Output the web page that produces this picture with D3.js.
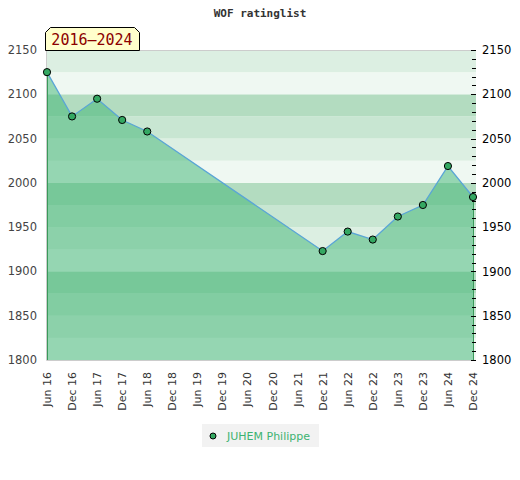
<!DOCTYPE html>
<html>
<head>
<meta charset="utf-8">
<script src="https://cdn.jsdelivr.net/npm/d3@7"></script>
<style>
  body { margin: 0; background: #fff; }
  svg { display: block; }
</style>
</head>
<body>
<svg id="chart" width="520" height="480"></svg>
<script>
// half-year labels along the x axis
var periods = ['Jun 16', 'Dec 16', 'Jun 17', 'Dec 17', 'Jun 18', 'Dec 18', 'Jun 19', 'Dec 19',
  'Jun 20', 'Dec 20', 'Jun 21', 'Dec 21', 'Jun 22', 'Dec 22', 'Jun 23', 'Dec 23', 'Jun 24', 'Dec 24'];
// rating per period, null where there was no rating
var ratings = [2125, 2075, 2095, 2071, 2058, null, null, null,
  null, null, null, 1923, 1945, 1936, 1962, 1975, 2019, 1984];
var yTicks = [1800, 1850, 1900, 1950, 2000, 2050, 2100, 2150];
var playerName = 'JUHEM Philippe';
var rangeLabel = '2016\u20132024';

(function () {
  var svg = d3.select('#chart');
  var plotLeft = 46, plotRight = 476, plotTop = 50, plotBottom = 360;
  var markerFill = '#34a862';

  var x = d3.scalePoint().domain(periods).range([47, 473]);
  var y = d3.scaleLinear().domain([1800, 2150]).range([plotBottom, plotTop]);

  // background stripes, 4 shades per 100 points
  var bandColors = ['#eff8f2', '#dcefe2', '#c8e6d2', '#b3dcc0'];
  var bands = d3.range(1800, 2150, 25);
  svg.append('g').selectAll('rect').data(bands).enter().append('rect')
      .attr('x', plotLeft)
      .attr('width', plotRight - plotLeft)
      .attr('y', function (d) { return y(d + 25); })
      .attr('height', function (d) { return y(d) - y(d + 25); })
      .attr('fill', function (d) { return bandColors[((d - 1800) / 25) % 4]; });

  // frame
  svg.append('path')
      .attr('d', 'M' + plotRight + ',' + (plotTop + 0.5) + 'H' + (plotLeft + 0.5) +
          'V' + (plotBottom + 0.5) + 'H' + plotRight)
      .attr('fill', 'none')
      .attr('stroke', '#cccccc');

  var points = periods.map(function (p, i) { return {p: p, v: ratings[i]}; })
      .filter(function (d) { return d.v !== null; });

  var area = d3.area()
      .x(function (d) { return x(d.p); })
      .y0(y(1800))
      .y1(function (d) { return y(d.v); });

  svg.append('path')
      .datum(points)
      .attr('d', area)
      .attr('fill', 'rgba(60,179,113,0.5)');

  // green edges of the area
  var first = points[0], last = points[points.length - 1];
  [first, last].forEach(function (d) {
    svg.append('line')
        .attr('x1', x(d.p) + 0.5).attr('x2', x(d.p) + 0.5)
        .attr('y1', y(d.v)).attr('y2', y(1800))
        .attr('stroke', '#3a9a5a');
  });

  var line = d3.line()
      .x(function (d) { return x(d.p); })
      .y(function (d) { return y(d.v); });

  svg.append('path')
      .datum(points)
      .attr('d', line)
      .attr('fill', 'none')
      .attr('stroke', '#5aa5d6')
      .attr('stroke-width', 1.3);

  // right axis with minor ticks
  var yAxis = d3.axisRight(y)
      .tickValues(yTicks)
      .tickSize(0)
      .tickPadding(9)
      .tickFormat(d3.format('d'));
  var gAxis = svg.append('g')
      .attr('transform', 'translate(473,0)')
      .call(yAxis);
  gAxis.select('.domain').remove();
  gAxis.selectAll('text')
      .attr('fill', '#000')
      .style('font', '11.5px "DejaVu Sans"');

  svg.append('g').selectAll('line').data(d3.range(1800, 2151, 10)).enter().append('line')
      .attr('x1', function (d) { return d % 50 === 0 ? 471 : 472; })
      .attr('x2', 476)
      .attr('y1', function (d) { return Math.round(y(d)) + 0.5; })
      .attr('y2', function (d) { return Math.round(y(d)) + 0.5; })
      .attr('stroke', '#000');

  // left labels
  svg.append('g').selectAll('text').data(yTicks).enter().append('text')
      .attr('x', 37)
      .attr('y', function (d) { return y(d); })
      .attr('dy', '0.35em')
      .attr('text-anchor', 'end')
      .attr('fill', '#444')
      .style('font', '11.5px "DejaVu Sans"')
      .text(function (d) { return d; });

  // rotated x labels
  svg.append('g').selectAll('text').data(periods).enter().append('text')
      .attr('transform', function (d) { return 'translate(' + (x(d) + 4) + ',372) rotate(-90)'; })
      .attr('text-anchor', 'end')
      .attr('fill', '#333')
      .style('font', '11px "DejaVu Sans"')
      .text(function (d) { return d; });

  // markers
  svg.append('g').selectAll('circle').data(points).enter().append('circle')
      .attr('cx', function (d) { return x(d.p); })
      .attr('cy', function (d) { return y(d.v); })
      .attr('r', 3.6)
      .attr('fill', markerFill)
      .attr('stroke', '#000')
      .attr('stroke-width', 1);

  // title
  svg.append('text')
      .attr('x', 260)
      .attr('y', 17)
      .attr('text-anchor', 'middle')
      .attr('fill', '#333')
      .style('font', 'bold 11px "DejaVu Sans Mono"')
      .text('WOF ratinglist');

  // period tag
  svg.append('path')
      .attr('d', 'M45.5,50.5V32.5L50.5,27.5H134.5L139.5,32.5V50.5Z')
      .attr('fill', '#ffffcc')
      .attr('stroke', '#000');
  svg.append('text')
      .attr('x', 92)
      .attr('y', 45)
      .attr('text-anchor', 'middle')
      .attr('fill', '#8b0000')
      .style('font', '15px "DejaVu Sans Mono"')
      .text(rangeLabel);

  // legend
  svg.append('rect')
      .attr('x', 202).attr('y', 424)
      .attr('width', 117).attr('height', 23)
      .attr('fill', '#f2f2f2');
  svg.append('circle')
      .attr('cx', 213).attr('cy', 436)
      .attr('r', 3)
      .attr('fill', markerFill)
      .attr('stroke', '#000');
  svg.append('text')
      .attr('x', 227).attr('y', 440)
      .attr('fill', '#3cb371')
      .style('font', '11px "DejaVu Sans"')
      .text(playerName);
})();
</script>
</body>
</html>
